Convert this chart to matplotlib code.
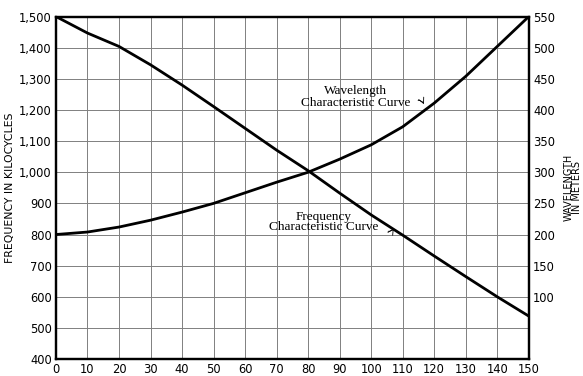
import matplotlib
matplotlib.use("Agg")
import matplotlib.pyplot as plt

# dial settings (x axis)
dial = [0, 10, 20, 30, 40, 50, 60, 70, 80, 90, 100, 110, 120, 130, 140, 150]

# frequency characteristic curve, kilocycles
freq_kc = [1500, 1447, 1404, 1345, 1280, 1211, 1141, 1071, 1005,
           933, 863, 798, 731, 665, 600, 538]

# wavelength characteristic curve, meters
wave_m = [200, 204, 212, 223, 236, 250, 267, 284, 300,
          321, 344, 373, 411, 454, 502, 550]

x_ticks = list(range(0, 151, 10))
freq_ticks = list(range(400, 1501, 100))
freq_labels = ["400", "500", "600", "700", "800", "900", "1,000",
               "1,100", "1,200", "1,300", "1,400", "1,500"]
wave_ticks = list(range(100, 551, 50))
wave_labels = ["100", "150", "200", "250", "300", "350", "400", "450", "500", "550"]

fig = plt.figure(figsize=(5.83, 3.76), dpi=100)
ax = fig.add_axes([0.096, 0.045, 0.811, 0.911])

ax.plot(dial, freq_kc, color="black", linewidth=2)
ax.set_xlim(0, 150)
ax.set_ylim(400, 1500)
ax.set_xticks(x_ticks)
ax.set_yticks(freq_ticks)
ax.set_yticklabels(freq_labels)
ax.grid(True, color="#808080", linewidth=0.7)
ax.tick_params(length=0, labelsize=8.3, pad=3)
for s in ax.spines.values():
    s.set_linewidth(1.6)
ax.set_ylabel("FREQUENCY IN KILOCYCLES", fontsize=7.8, labelpad=3)

# right axis: wavelength, 0..550 m on the same grid
ax2 = ax.twinx()
ax2.plot(dial, wave_m, color="black", linewidth=2)
ax2.set_ylim(0, 550)
ax2.set_yticks(wave_ticks)
ax2.set_yticklabels(wave_labels)
ax2.tick_params(length=0, labelsize=8.3, pad=3)
for s in ax2.spines.values():
    s.set_linewidth(1.6)
ax2.set_ylabel("WAVELENGTH\nIN METERS", fontsize=7, labelpad=6, linespacing=0.9)

# curve annotations
ax.text(95, 1242, "Wavelength\nCharacteristic Curve", family="Liberation Serif",
        fontsize=9.5, ha="center", va="center", linespacing=1.0)
ax.annotate("", xy=(117, 1210), xytext=(114, 1230),
            arrowprops=dict(arrowstyle="->", color="black", lw=0.6,
                            connectionstyle="arc3,rad=-0.5"))
ax.text(85, 840, "Frequency\nCharacteristic Curve", family="Liberation Serif",
        fontsize=9.5, ha="center", va="center", linespacing=0.85)
ax.annotate("", xy=(107.5, 828), xytext=(104.5, 812),
            arrowprops=dict(arrowstyle="->", color="black", lw=0.6,
                            connectionstyle="arc3,rad=0.5"))

fig.savefig("out.png", dpi=100)
